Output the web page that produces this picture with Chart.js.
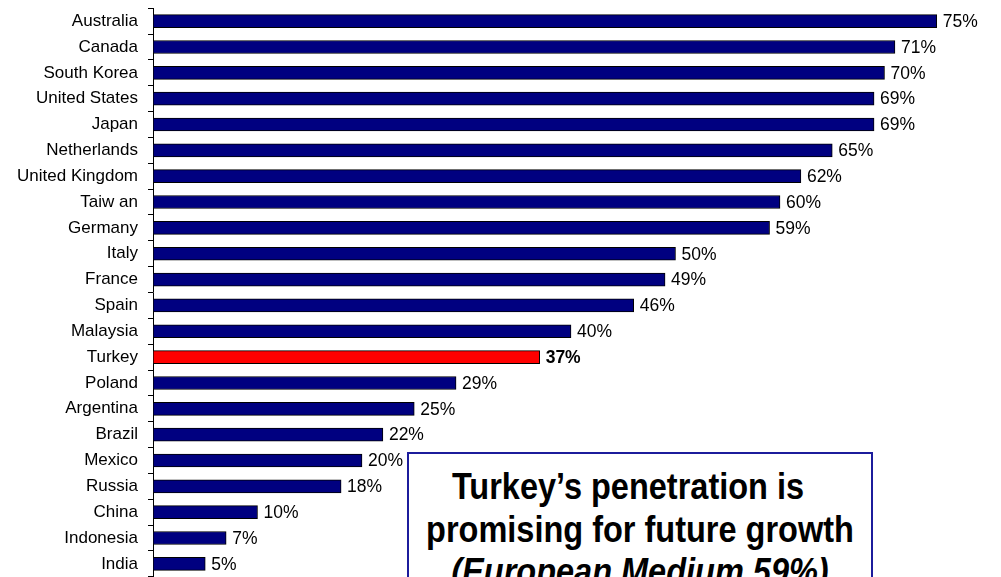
<!DOCTYPE html>
<html>
<head>
<meta charset="utf-8">
<script src="https://cdn.jsdelivr.net/npm/chart.js@4.4.0/dist/chart.umd.min.js"></script>
<style>
  html, body { margin: 0; padding: 0; background: #fff; overflow: hidden; }
  #wrap { position: relative; width: 1001px; height: 577px; overflow: hidden; }
  #chart { position: absolute; left: 0; top: -12px; }
  #note {
    position: absolute; left: 407px; top: 452px; width: 466px; height: 200px;
    border: 2px solid #1c1c9c; background: #fff; box-sizing: border-box;
    padding-top: 12px; white-space: nowrap;
  }
  #note .txt {
    font-family: 'Liberation Sans', Arial, sans-serif; font-weight: bold;
    font-size: 32.5px; line-height: 37.5px; text-align: center; color: #000;
    transform: scaleY(1.13); transform-origin: 50% 0;
  }
  #note .l1 { padding-right: 24px; }
  #note i { font-style: italic; }
</style>
</head>
<body>
<div id="wrap">
  <canvas id="chart" width="1001" height="609"></canvas>
  <div id="note"><div class="txt"><div class="l1">Turkey’s penetration is</div><div>promising for future growth</div><div><i>(European Medium 59%)</i></div></div></div>
</div>
<script>
// datos del gráfico
const countries = ['Australia', 'Canada', 'South Korea', 'United States', 'Japan', 'Netherlands',
  'United Kingdom', 'Taiw an', 'Germany', 'Italy', 'France', 'Spain', 'Malaysia', 'Turkey',
  'Poland', 'Argentina', 'Brazil', 'Mexico', 'Russia', 'China', 'Indonesia', 'India'];
const penetration = [75, 71, 70, 69, 69, 65, 62, 60, 59, 50, 49, 46, 40, 37, 29, 25, 22, 20, 18, 10, 7, 5];
const highlight = 'Turkey';

const FONT = '"Liberation Sans", Arial, sans-serif';
const barColors = countries.map(c => c === highlight ? '#ff0000' : '#000080');

// etiquetas de valor al final de cada barra
const valueLabels = {
  id: 'valueLabels',
  afterDatasetsDraw(chart) {
    const ctx = chart.ctx;
    const meta = chart.getDatasetMeta(0);
    ctx.save();
    ctx.textBaseline = 'middle';
    ctx.textAlign = 'left';
    ctx.fillStyle = '#000';
    meta.data.forEach((bar, i) => {
      const bold = countries[i] === highlight ? 'bold ' : '';
      ctx.font = bold + '17.5px ' + FONT;
      ctx.fillText(penetration[i] + '%', bar.x + 6, bar.y + 1);
    });
    ctx.restore();
  }
};

new Chart(document.getElementById('chart').getContext('2d'), {
  type: 'bar',
  data: {
    labels: countries,
    datasets: [{
      data: penetration,
      backgroundColor: barColors,
      borderColor: '#000',
      borderWidth: 1,
      borderSkipped: false,
      barThickness: 13
    }]
  },
  options: {
    indexAxis: 'y',
    responsive: false,
    animation: false,
    layout: { padding: { top: 6, bottom: 2, right: 12, left: 0 } },
    scales: {
      x: { display: false, min: 0, max: 80 },
      y: {
        afterFit: s => { s.width = 153; },
        grid: { drawOnChartArea: false, drawTicks: true, tickLength: 5, color: '#000', offset: true },
        border: { display: true, color: '#000', width: 1 },
        ticks: {
          padding: 10,
          color: '#000',
          autoSkip: false,
          font: { family: FONT, size: 17 }
        }
      }
    },
    plugins: { legend: { display: false }, tooltip: { enabled: false } }
  },
  plugins: [valueLabels]
});
</script>
</body>
</html>
